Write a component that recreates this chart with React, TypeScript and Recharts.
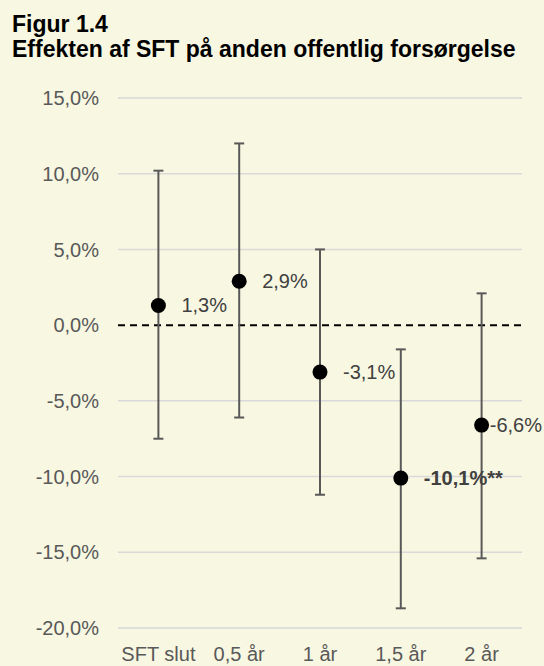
import {
  CartesianGrid,
  ComposedChart,
  ErrorBar,
  LabelList,
  Line,
  ReferenceLine,
  XAxis,
  YAxis,
} from "recharts";

const categories = ["SFT slut", "0,5 år", "1 år", "1,5 år", "2 år"];
const effects = [1.3, 2.9, -3.1, -10.1, -6.6];
const lowerBounds = [-7.5, -6.1, -11.2, -18.7, -15.4];
const upperBounds = [10.2, 12.0, 5.0, -1.6, 2.1];
const stars = ["", "", "", "**", ""];
const yTicks = [-20, -15, -10, -5, 0, 5, 10, 15];
const gridValues = [-20, -15, -10, -5, 5, 10, 15];

const BG = "#f8f7e1";
const FONT = "'Liberation Sans', Arial, sans-serif";
const W = 544;
const H = 666;

const pct = (v: number) => `${v.toFixed(1).replace(".", ",")}%`;

const data = categories.map((name, i) => ({
  name,
  effect: effects[i],
  ci: [effects[i] - lowerBounds[i], upperBounds[i] - effects[i]],
  label: pct(effects[i]) + stars[i],
}));

function PointLabel(props: any) {
  const { x, y, index } = props;
  const text = data[index].label;
  const bold = stars[index] !== "";
  const size = 20;
  const est = text.length * size * 0.56;
  let lx = x + 23;
  let anchor: "start" | "end" = "start";
  if (lx + est > W - 2) {
    lx = W - 2;
    anchor = "end";
  }
  return (
    <text
      x={lx}
      y={y}
      textAnchor={anchor}
      dominantBaseline="central"
      fill="#404040"
      fontSize={size}
      fontWeight={bold ? "bold" : "normal"}
      fontFamily={FONT}
    >
      {text}
    </text>
  );
}

export default function App() {
  return (
    <div
      style={{
        position: "absolute",
        left: 0,
        top: 0,
        width: W,
        height: H,
        background: BG,
        fontFamily: FONT,
      }}
    >
      <div
        style={{
          position: "absolute",
          left: 12,
          top: 12,
          fontSize: 23,
          lineHeight: "25px",
          fontWeight: "bold",
          color: "#000",
          whiteSpace: "nowrap",
        }}
      >
        <div>Figur 1.4</div>
        <div>Effekten af SFT på anden offentlig forsørgelse</div>
      </div>
      <ComposedChart
        width={W}
        height={H}
        data={data}
        margin={{ top: 98, right: 22, bottom: 0, left: 0 }}
        style={{ position: "absolute", left: 0, top: 0 }}
      >
        <CartesianGrid
          vertical={false}
          horizontalValues={gridValues}
          stroke="#d9d9d9"
          strokeWidth={1.5}
        />
        <XAxis
          dataKey="name"
          scale="band"
          height={38}
          axisLine={false}
          tickLine={false}
          tickSize={0}
          tickMargin={19}
          interval={0}
          tick={{ fill: "#595959", fontSize: 20, fontFamily: FONT }}
        />
        <YAxis
          type="number"
          domain={[-20, 15]}
          ticks={yTicks}
          width={118}
          axisLine={false}
          tickLine={false}
          tickSize={0}
          tickMargin={19}
          tickFormatter={pct}
          tick={{ fill: "#595959", fontSize: 20, fontFamily: FONT }}
        />
        <ReferenceLine
          y={0}
          stroke="#000"
          strokeWidth={2}
          strokeDasharray="7 5"
        />
        <Line
          dataKey="effect"
          stroke="none"
          isAnimationActive={false}
          activeDot={false}
          dot={(p: any) => (
            <circle key={p.index} cx={p.cx} cy={p.cy} r={7.5} fill="#000" />
          )}
        >
          <ErrorBar
            dataKey="ci"
            direction="y"
            width={5}
            stroke="#595959"
            strokeWidth={2}
            isAnimationActive={false}
          />
          <LabelList dataKey="label" content={<PointLabel />} />
        </Line>
      </ComposedChart>
    </div>
  );
}
